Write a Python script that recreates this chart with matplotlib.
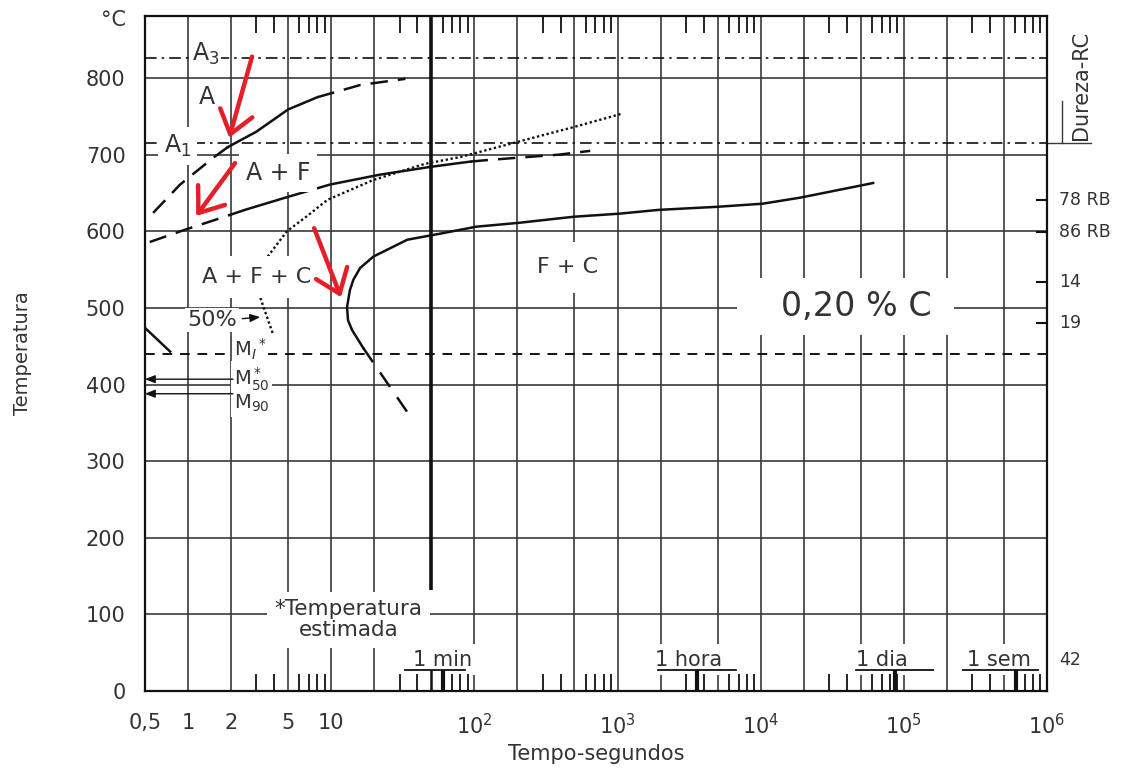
import matplotlib.pyplot as plt
from matplotlib.ticker import FixedLocator, FixedFormatter, NullFormatter

plt.rcParams['font.family'] = ['DejaVu Sans']
plt.rcParams['mathtext.fontset'] = 'dejavusans'

TXT = '#333333'
LN = '#111111'
GRID = '#3a3a3a'
RED = '#e61e28'

# ---- values (time in s, temperature in degC) ----
a3_temp = 826
a1_temp = 715
ms_temp = 440
m50_temp = 407
m90_temp = 388

# upper curve (A -> A+F start)
upper_t = [0.57, 0.88, 1.5, 1.9, 3.0, 5.0, 8.0, 16, 33]
upper_T = [624, 661, 696, 710, 730, 759, 775, 791, 799]

# A+F curve
af_t = [0.54, 0.95, 1.55, 2.5, 4.8, 9.8, 22, 49, 94, 124, 200, 388, 645]
af_T = [586, 602, 615, 628, 644, 661, 674, 684, 691, 693, 696, 700, 705]

# dotted curve
dot_t = [3.6, 4.9, 6.8, 9.4, 19.7, 45, 80, 203, 493, 1050]
dot_T = [567, 600, 620, 641, 667, 688, 697, 717, 736, 753]

# 50 % dotted piece
half_t = [3.2, 3.9]
half_T = [513, 467]

# F+C curve (solid) and its dashed tail
fc_t = [16.7, 14.0, 13.1, 12.9, 13.5, 14.3, 15.9, 19.7, 34, 58, 103, 203,
        494, 1030, 1950, 5000, 10300, 19000, 61000]
fc_T = [448, 471, 484, 501, 523, 537, 552, 567, 589, 597, 606, 611,
        619, 623, 628, 632, 636, 644, 663]
tail_t = [16.7, 34]
tail_T = [448, 364]

# short solid piece at the left border
bain_t = [0.5, 0.75]
bain_T = [474, 443]

# grid
grid_t = [1, 2, 5, 10, 20, 100, 200, 500, 1e3, 2e3, 5e3, 1e4, 2e4, 5e4,
          1e5, 2e5, 5e5]
grid_T = [100, 200, 300, 400, 500, 600, 700, 800]
thick_t = 50

# x axis labels
xtick_vals = [0.5, 1, 2, 5, 10, 1e2, 1e3, 1e4, 1e5, 1e6]
xtick_lbls = ['0,5', '1', '2', '5', '10', '$10^2$', '$10^3$', '$10^4$',
              '$10^5$', '$10^6$']
ytick_vals = [0, 100, 200, 300, 400, 500, 600, 700, 800, 878]
ytick_lbls = ['0', '100', '200', '300', '400', '500', '600', '700', '800',
              '°C']

# time marks at the bottom
mark_lbl = ['1 min', '1 hora', '1 dia', '1 sem']
mark_t = [60, 3600, 86400, 604800]
mark_lbl_t = [59.8, 3150, 7.0e4, 4.6e5]
bar_lo = [32.9, 1905, 4.6e4, 2.6e5]
bar_hi = [86.5, 6680, 1.6e5, 8.6e5]
bar_T = 27

# hardness scale on the right
hard_T = [641, 599, 534, 480, 40]
hard_lbl = ['78 RB', '86 RB', '14', '19', '42']

# red arrows (tail -> head)
red_tail = [(2.8, 828), (2.13, 689), (7.6, 604)]
red_head = [(1.94, 722), (1.14, 620), (11.7, 514)]

fig = plt.figure(figsize=(11.45, 7.69), dpi=100)
ax = fig.add_axes([0.1266, 0.1014, 0.7878, 0.8778])
ax.set_xscale('log')
ax.set_xlim(0.5, 1e6)
ax.set_ylim(0, 881)

# grid lines
ax.vlines(grid_t, 0, 881, colors=GRID, lw=1.2, zorder=1)
ax.hlines(grid_T, 0.5, 1e6, colors=GRID, lw=1.2, zorder=1)
ax.vlines(thick_t, 132, 881, colors=LN, lw=2.6, zorder=1)
ax.vlines(thick_t, 0, bar_T, colors=LN, lw=1.8, zorder=4)

# transformation lines
ax.axhline(a3_temp, color=LN, lw=1.2, dashes=[7, 3, 1.5, 3], zorder=2)
ax.axhline(a1_temp, color=LN, lw=1.2, dashes=[7, 3, 1.5, 3], zorder=2)
ax.axhline(ms_temp, color=LN, lw=1.4, dashes=[5, 4], zorder=2)

# curves
ck = dict(color=LN, lw=1.8, zorder=2)
ax.plot(upper_t[:4], upper_T[:4], dashes=[7, 4], **ck)
ax.plot(upper_t[3:7], upper_T[3:7], **ck)
ax.plot(upper_t[6:], upper_T[6:], dashes=[7, 4], **ck)
ax.plot(af_t[:4], af_T[:4], dashes=[7, 4], **ck)
ax.plot(af_t[3:9], af_T[3:9], **ck)
ax.plot(af_t[8:], af_T[8:], dashes=[7, 4], **ck)
ax.plot(dot_t, dot_T, color=LN, lw=1.7, dashes=[1, 1.1], zorder=2)
ax.plot(half_t, half_T, color=LN, lw=1.7, dashes=[1, 1.1], zorder=2)
ax.plot(fc_t, fc_T, **ck)
ax.plot(tail_t, tail_T, dashes=[7, 5], **ck)
ax.plot(bain_t, bain_T, **ck)

# M arrows
for T in [m50_temp, m90_temp]:
    ax.annotate('', xy=(0.5, T), xytext=(2.06, T),
                arrowprops=dict(arrowstyle='-|>,head_length=0.5,head_width=0.2',
                                color=LN, lw=1.0, shrinkA=0, shrinkB=0,
                                mutation_scale=12), zorder=4)

box = lambda p: dict(boxstyle='square,pad=%s' % p, fc='white', ec='none')
tk = dict(color=TXT, zorder=3)

# region labels
ax.text(1.32, 832, 'A$_3$', fontsize=17, ha='center', va='center', bbox=box(0.1), **tk)
ax.text(1.36, 775, 'A', fontsize=17, ha='center', va='center', bbox=box(0.15), **tk)
ax.text(0.84, 711, 'A$_1$', fontsize=17, ha='center', va='center', bbox=box(0.25), **tk)
ax.text(4.26, 676, 'A + F', fontsize=17, ha='center', va='center', bbox=box(0.3), **tk)
ax.text(2.99, 540, 'A + F + C', fontsize=16, ha='center', va='center', bbox=box(0.5), **tk)
ax.text(447, 553, 'F + C', fontsize=16, ha='center', va='center', bbox=box(0.7), **tk)
ax.text(3.93e4, 502, '   0,20 % C ', fontsize=24, ha='center', va='center', bbox=box(0.35), **tk)
ax.text(1.47, 484, '50%', fontsize=16, ha='center', va='center', bbox=box(0.1), **tk)
ax.annotate('', xy=(3.19, 488), xytext=(2.39, 486),
            arrowprops=dict(arrowstyle='-|>,head_length=0.5,head_width=0.2',
                            color=LN, lw=1.0, shrinkA=0, shrinkB=0,
                            mutation_scale=12), zorder=4)
ax.text(2.08, 446, 'M$_I$$^*$', fontsize=14, ha='left', va='center',
        bbox=box(0.1), **tk)
ax.text(2.08, 393, 'M$_{50}^*$\nM$_{90}$', fontsize=14, ha='left', va='center',
        linespacing=0.95, bbox=box(0.15), **tk)
ax.text(13.2, 93, '*Temperatura\nestimada', fontsize=15.5, ha='center', va='center',
        linespacing=1.05, bbox=box(0.35), **tk)

# time marks at the bottom
for lbl, t, lo, hi in zip(mark_lbl, mark_lbl_t, bar_lo, bar_hi):
    ax.text(t, bar_T + 1, lbl, fontsize=15, ha='center', va='bottom',
            bbox=box(0.25), **tk)
    ax.plot([lo, hi], [bar_T, bar_T], color=LN, lw=1.3, zorder=4)
ax.vlines(mark_t, 0, bar_T, colors=LN, lw=3.0, zorder=4)

# hardness scale
ax.hlines(hard_T[:4], 8.4e5, 1e6, colors=LN, lw=1.5, zorder=4)
for T, lbl in zip(hard_T, hard_lbl):
    ax.text(1.21e6, T, lbl, fontsize=12.5, ha='left', va='center', color=TXT)
ax.text(1.73e6, 791, 'Dureza-RC', fontsize=15, rotation=90, ha='center',
        va='center', color=TXT)
ax.plot([1e6, 2.04e6], [a1_temp, a1_temp], color=GRID, lw=1.0, clip_on=False)
ax.plot([1.27e6, 1.27e6], [a1_temp, 770], color=GRID, lw=1.0, clip_on=False)

# red arrows
for (t0, T0), (t1, T1) in zip(red_tail, red_head):
    ax.annotate('', xy=(t1, T1), xytext=(t0, T0),
                arrowprops=dict(arrowstyle='->,head_length=0.8,head_width=0.6',
                                color=RED, lw=3.2, shrinkA=0, shrinkB=0,
                                mutation_scale=20), zorder=10)

# axes, ticks, labels
ax.xaxis.set_major_locator(FixedLocator(xtick_vals))
ax.xaxis.set_major_formatter(FixedFormatter(xtick_lbls))
ax.xaxis.set_minor_locator(FixedLocator([m * 10 ** k for k in range(6)
                                         for m in (3, 4, 6, 7, 8, 9)]))
ax.xaxis.set_minor_formatter(NullFormatter())
ax.set_yticks(ytick_vals)
ax.set_yticklabels(ytick_lbls)
ax.tick_params(axis='x', which='major', length=0, pad=16, labelsize=15,
               labelcolor=TXT)
ax.tick_params(axis='x', which='minor', direction='in', length=12, width=1.3,
               top=True, bottom=True, color=LN)
ax.tick_params(axis='y', length=0, pad=14, labelsize=15, labelcolor=TXT)
ax.xaxis.set_zorder(5)
for s in ax.spines.values():
    s.set_linewidth(1.6)
    s.set_color(LN)
    s.set_zorder(6)

ax.set_xlabel('Tempo-segundos', fontsize=15, color=TXT, labelpad=4)
ax.set_ylabel('Temperatura', fontsize=14, color=TXT)
ax.yaxis.set_label_coords(-0.125, 0.5)

fig.savefig('out.png', dpi=100)
